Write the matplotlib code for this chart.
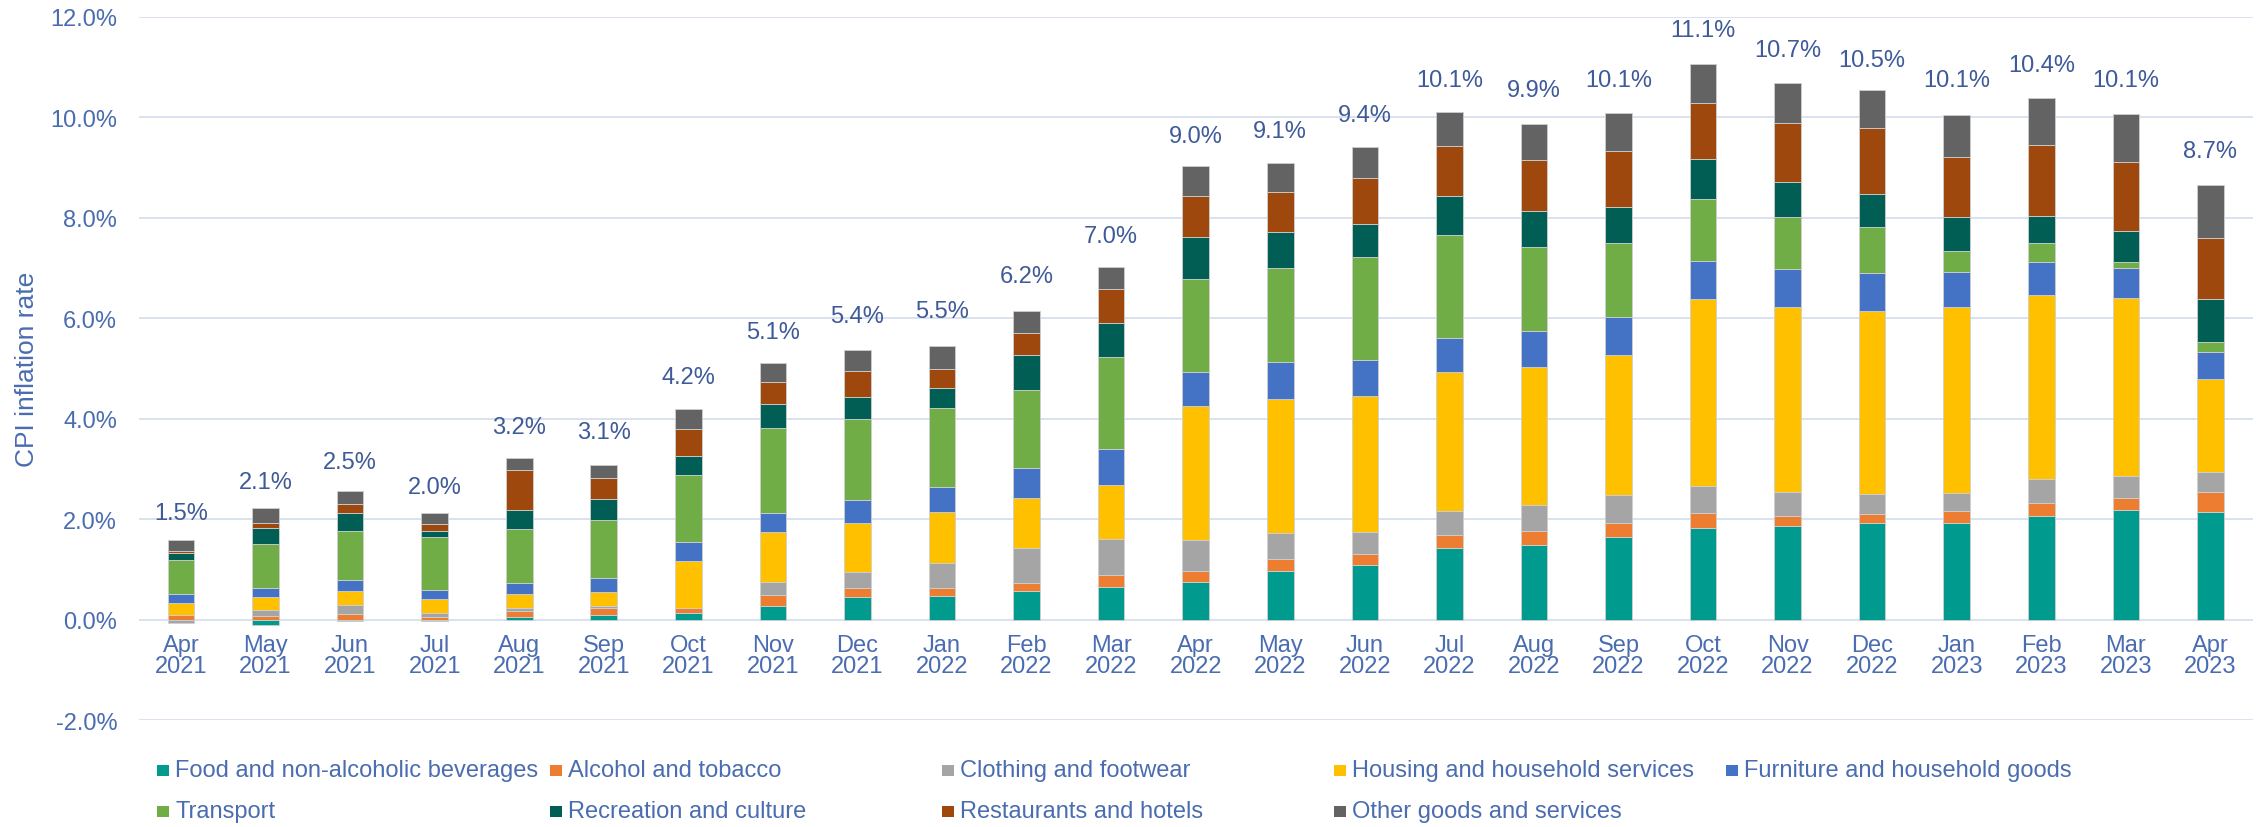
import matplotlib
matplotlib.use("Agg")
import matplotlib.pyplot as plt
import numpy as np
from matplotlib.patches import Rectangle

plt.rcParams['font.family'] = ['Liberation Sans', 'DejaVu Sans']

months = ["Apr\n2021", "May\n2021", "Jun\n2021", "Jul\n2021", "Aug\n2021", "Sep\n2021",
          "Oct\n2021", "Nov\n2021", "Dec\n2021", "Jan\n2022", "Feb\n2022", "Mar\n2022",
          "Apr\n2022", "May\n2022", "Jun\n2022", "Jul\n2022", "Aug\n2022", "Sep\n2022",
          "Oct\n2022", "Nov\n2022", "Dec\n2022", "Jan\n2023", "Feb\n2023", "Mar\n2023",
          "Apr\n2023"]

headline = [1.5, 2.1, 2.5, 2.0, 3.2, 3.1, 4.2, 5.1, 5.4, 5.5, 6.2, 7.0,
            9.0, 9.1, 9.4, 10.1, 9.9, 10.1, 11.1, 10.7, 10.5, 10.1, 10.4, 10.1, 8.7]

food = [-0.01, -0.10, -0.02, -0.03, 0.06, 0.10, 0.13, 0.28, 0.45, 0.47, 0.57, 0.66,
        0.76, 0.97, 1.10, 1.42, 1.48, 1.64, 1.83, 1.87, 1.93, 1.93, 2.07, 2.18, 2.14]
alcohol = [0.09, 0.08, 0.11, 0.06, 0.11, 0.13, 0.10, 0.22, 0.18, 0.16, 0.17, 0.23,
           0.22, 0.25, 0.21, 0.27, 0.28, 0.28, 0.29, 0.20, 0.18, 0.24, 0.26, 0.25, 0.41]
clothing = [-0.06, 0.11, 0.19, 0.08, 0.06, 0.04, 0.01, 0.26, 0.32, 0.51, 0.68, 0.72,
            0.60, 0.50, 0.44, 0.48, 0.53, 0.57, 0.54, 0.48, 0.40, 0.36, 0.48, 0.43, 0.40]
housing = [0.25, 0.27, 0.28, 0.28, 0.28, 0.29, 0.94, 0.99, 0.97, 1.00, 1.00, 1.08,
           2.67, 2.67, 2.70, 2.76, 2.74, 2.78, 3.72, 3.67, 3.64, 3.69, 3.65, 3.55, 1.84]
furniture = [0.18, 0.17, 0.21, 0.17, 0.22, 0.28, 0.36, 0.38, 0.47, 0.51, 0.60, 0.70,
             0.69, 0.75, 0.72, 0.68, 0.71, 0.76, 0.75, 0.76, 0.76, 0.71, 0.65, 0.60, 0.54]
transport = [0.67, 0.87, 0.98, 1.06, 1.08, 1.15, 1.35, 1.68, 1.61, 1.56, 1.56, 1.83,
             1.85, 1.86, 2.04, 2.04, 1.67, 1.47, 1.25, 1.03, 0.91, 0.41, 0.38, 0.10, 0.20]
recreation = [0.14, 0.32, 0.35, 0.12, 0.37, 0.41, 0.38, 0.49, 0.44, 0.41, 0.68, 0.69,
              0.82, 0.71, 0.67, 0.78, 0.73, 0.72, 0.78, 0.71, 0.66, 0.67, 0.55, 0.63, 0.85]
restaurants = [0.05, 0.11, 0.18, 0.13, 0.80, 0.42, 0.53, 0.44, 0.52, 0.38, 0.44, 0.67,
               0.82, 0.80, 0.92, 0.99, 1.00, 1.10, 1.13, 1.17, 1.30, 1.20, 1.41, 1.37, 1.22]
other = [0.21, 0.29, 0.26, 0.22, 0.25, 0.27, 0.39, 0.37, 0.41, 0.44, 0.45, 0.44,
         0.60, 0.58, 0.60, 0.68, 0.73, 0.77, 0.76, 0.79, 0.76, 0.84, 0.94, 0.95, 1.06]

series_names = ["Food and non-alcoholic beverages", "Alcohol and tobacco",
                "Clothing and footwear", "Housing and household services",
                "Furniture and household goods", "Transport", "Recreation and culture",
                "Restaurants and hotels", "Other goods and services"]
series_values = [food, alcohol, clothing, housing, furniture, transport,
                 recreation, restaurants, other]
colors = ["#009A8E", "#ED7D31", "#A5A5A5", "#FFC000", "#4472C4", "#70AD47",
          "#005E55", "#9E480E", "#636363"]

W, H = 2262, 828
fig = plt.figure(figsize=(W / 100, H / 100), dpi=100)
left, right, top, bottom = 138.7, 2252.7, 17.7, 721.4
ax = fig.add_axes([left / W, 1 - bottom / H, (right - left) / W, (bottom - top) / H])

axis_color = "#4A6CB0"
label_color = "#3E5A99"

x = np.arange(len(months))
pos_base = np.zeros(len(months))
neg_base = np.zeros(len(months))
for name, vals, c in zip(series_names, series_values, colors):
    v = np.array(vals)
    b = np.where(v >= 0, pos_base, neg_base)
    ax.bar(x, v, width=0.315, bottom=b, color=c, edgecolor="#cfcfcf",
           linewidth=0.6, zorder=3)
    pos_base = pos_base + np.where(v >= 0, v, 0)
    neg_base = neg_base + np.where(v < 0, v, 0)

for i, h in enumerate(headline):
    ax.annotate(f"{h:.1f}%", (x[i], h), xytext=(0, 23), textcoords="offset points",
                ha="center", va="center", fontsize=17, color=label_color)

ax.set_xlim(-0.5, len(months) - 0.5)
ax.set_ylim(-2, 12)
ax.set_yticks(np.arange(-2, 12.1, 2))
ax.set_yticklabels([f"{t:.1f}%" for t in np.arange(-2, 12.1, 2)])
ax.yaxis.grid(True, color="#D3DBEC", linewidth=1.2, zorder=0)
ax.set_axisbelow(True)
for s in ["left", "right", "top"]:
    ax.spines[s].set_visible(False)
ax.spines["bottom"].set_position(("data", 0))
ax.spines["bottom"].set_visible(False)
ax.set_xticks(x)
ax.set_xticklabels(months, linespacing=0.95)
ax.tick_params(axis="x", length=0, pad=10, labelsize=17, labelcolor=axis_color)
ax.tick_params(axis="y", length=0, pad=15.5, labelsize=17, labelcolor=axis_color)

fig.text(27 / W, 1 - 369 / H, "CPI inflation rate", rotation=90, ha="center",
         va="center", fontsize=19, color=axis_color)

# legend laid out in five equal columns
col_x = [157, 550, 942, 1334, 1726]
row_y = [771, 812]
for k, (name, c) in enumerate(zip(series_names, colors)):
    cx = col_x[k % 5]
    cy = row_y[k // 5]
    fig.patches.append(Rectangle((cx / W, 1 - (cy + 5.5) / H), 12 / W, 11 / H,
                                 transform=fig.transFigure, facecolor=c,
                                 edgecolor="none"))
    fig.text((cx + 18) / W, 1 - cy / H, name, ha="left", va="center",
             fontsize=17, color=axis_color)

fig.savefig("out.png", dpi=100)
